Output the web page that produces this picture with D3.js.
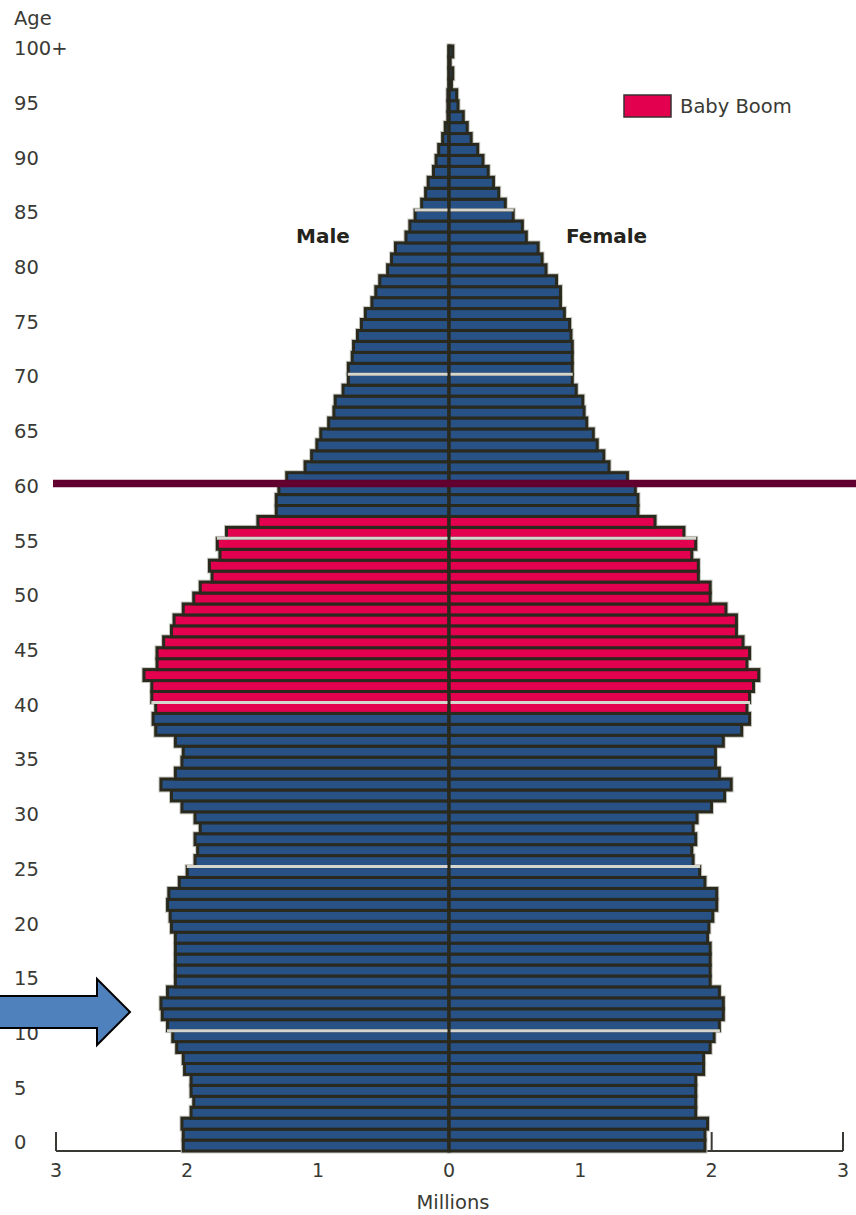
<!DOCTYPE html>
<html>
<head>
<meta charset="utf-8">
<script src="https://cdn.jsdelivr.net/npm/d3@7/dist/d3.min.js"></script>
<style>
  html, body { margin: 0; padding: 0; background: #ffffff; }
  svg { display: block; }
  text { font-family: "DejaVu Sans", Verdana, sans-serif; }
</style>
</head>
<body>
<svg id="chart" width="856" height="1215"></svg>
<script>
// ---- Data (millions), ages 0 .. 100+ ----
const ages = d3.range(0, 101);
const male = [
  2.04, 2.04, 2.05, 1.98, 1.96, 1.98, 1.98, 2.03, 2.04, 2.09,
  2.12, 2.16, 2.20, 2.21, 2.16, 2.10, 2.10, 2.10, 2.10, 2.10,
  2.13, 2.14, 2.16, 2.15, 2.07, 2.01, 1.95, 1.93, 1.95, 1.91,
  1.95, 2.05, 2.13, 2.21, 2.10, 2.05, 2.04, 2.10, 2.25, 2.27,
  2.25, 2.28, 2.28, 2.34, 2.24, 2.24, 2.19, 2.13, 2.11, 2.04,
  1.96, 1.91, 1.82, 1.84, 1.76, 1.78, 1.71, 1.47, 1.33, 1.33,
  1.31, 1.25, 1.11, 1.06, 1.02, 0.99, 0.93, 0.89, 0.88, 0.82,
  0.78, 0.78, 0.75, 0.74, 0.71, 0.68, 0.65, 0.60, 0.57, 0.54,
  0.48, 0.45, 0.42, 0.34, 0.31, 0.27, 0.22, 0.19, 0.17, 0.13,
  0.11, 0.09, 0.06, 0.04, 0.02, 0.02, 0.02, 0.01, 0.01, 0.01,
  0.01
];
const female = [
  1.96, 1.96, 1.98, 1.89, 1.89, 1.89, 1.89, 1.95, 1.95, 2.00,
  2.03, 2.07, 2.10, 2.10, 2.07, 2.00, 2.00, 2.00, 2.00, 1.98,
  1.99, 2.02, 2.05, 2.05, 1.96, 1.92, 1.87, 1.86, 1.89, 1.87,
  1.90, 2.01, 2.11, 2.16, 2.07, 2.04, 2.04, 2.10, 2.24, 2.30,
  2.28, 2.30, 2.33, 2.37, 2.28, 2.30, 2.25, 2.20, 2.20, 2.12,
  2.00, 2.00, 1.91, 1.91, 1.86, 1.89, 1.80, 1.58, 1.45, 1.45,
  1.43, 1.37, 1.23, 1.19, 1.14, 1.11, 1.06, 1.04, 1.03, 0.98,
  0.95, 0.95, 0.95, 0.95, 0.94, 0.93, 0.89, 0.86, 0.86, 0.83,
  0.75, 0.72, 0.69, 0.60, 0.57, 0.50, 0.44, 0.39, 0.35, 0.31,
  0.27, 0.23, 0.18, 0.15, 0.12, 0.08, 0.07, 0.03, 0.04, 0.02,
  0.04
];
const boomFirstAge = 40;
const boomLastAge = 57;
const ageTickValues = d3.range(0, 101, 5);
const ageTickLabels = ageTickValues.map(a => a === 100 ? "100+" : String(a));
const xTickValues = [0, 1, 2, 3];
const gapAges = [10, 25, 40, 55, 70, 85];
const markerAge = 60;
const legendLabel = "Baby Boom";

// ---- Layout ----
const svg = d3.select("#chart");
const cx = 449;
const COLORS = {
  blue: "#285186",
  pink: "#e2004f",
  outline: "#2a291d",
  halo: "#c9c9c2",
  text: "#3a3a34",
  marker: "#620030",
  arrow: "#4f81bd"
};

const xL = d3.scaleLinear().domain([0, 3]).range([cx, 56]);
const xR = d3.scaleLinear().domain([0, 3]).range([cx, 843]);
const y = d3.scaleBand().domain(ages).range([1151, 46]).paddingInner(0).paddingOuter(0);
const bw = y.bandwidth();
const sw = 3;

const rows = ages.map((a, i) => ({ age: a, m: male[i], f: female[i],
  boom: a >= boomFirstAge && a <= boomLastAge }));

// ---- Axis (drawn under bars) ----
const axisG = svg.append("g");
axisG.append("line")
  .attr("x1", xL(3)).attr("x2", xR(3))
  .attr("y1", 1151).attr("y2", 1151)
  .attr("stroke", COLORS.text).attr("stroke-width", 2);
const tickData = [];
xTickValues.forEach(v => { tickData.push({ v, x: xL(v) }); if (v > 0) tickData.push({ v, x: xR(v) }); });
axisG.selectAll("line.tick").data(tickData).join("line")
  .attr("class", "tick")
  .attr("x1", d => d.x).attr("x2", d => d.x)
  .attr("y1", 1151).attr("y2", 1132)
  .attr("stroke", COLORS.text).attr("stroke-width", 2);
axisG.selectAll("text.xt").data(tickData).join("text")
  .attr("class", "xt")
  .attr("x", d => d.x).attr("y", 1177)
  .attr("text-anchor", "middle")
  .attr("font-size", 19)
  .attr("fill", COLORS.text)
  .text(d => d.v);
axisG.append("text")
  .attr("x", 453).attr("y", 1209)
  .attr("text-anchor", "middle")
  .attr("font-size", 19.5)
  .attr("fill", COLORS.text)
  .text("Millions");

// ---- Bars ----
function drawBars(cls, stroke, width, withFill) {
  const g = svg.append("g");
  g.selectAll("rect.m").data(rows).join("rect")
    .attr("x", d => xL(d.m) + sw / 2)
    .attr("y", d => y(d.age))
    .attr("width", d => Math.max(0.3, cx - xL(d.m) - sw / 2))
    .attr("height", bw)
    .attr("fill", d => withFill ? (d.boom ? COLORS.pink : COLORS.blue) : "none")
    .attr("stroke", stroke).attr("stroke-width", width);
  g.selectAll("rect.f").data(rows).join("rect")
    .attr("x", cx)
    .attr("y", d => y(d.age))
    .attr("width", d => Math.max(0.3, xR(d.f) - cx - sw / 2))
    .attr("height", bw)
    .attr("fill", d => withFill ? (d.boom ? COLORS.pink : COLORS.blue) : "none")
    .attr("stroke", stroke).attr("stroke-width", width);
}
drawBars("halo", COLORS.halo, 5, false);
drawBars("main", COLORS.outline, sw, true);

// light gaps between some bars
svg.append("g").selectAll("line").data(gapAges).join("line")
  .attr("x1", a => Math.min(xL(male[a]), xL(male[a + 1])) + 1)
  .attr("x2", a => Math.max(xR(female[a]), xR(female[a + 1])) - 1)
  .attr("y1", a => y(a)).attr("y2", a => y(a))
  .attr("stroke", "#d6d6cf").attr("stroke-width", 3);

// center line
svg.append("line")
  .attr("x1", cx).attr("x2", cx)
  .attr("y1", y(100) - 1).attr("y2", 1151)
  .attr("stroke", COLORS.outline).attr("stroke-width", 3);

// marker line at 60
svg.append("line")
  .attr("x1", 53).attr("x2", 856)
  .attr("y1", y(markerAge)).attr("y2", y(markerAge))
  .attr("stroke", COLORS.marker).attr("stroke-width", 7.5);

// ---- Age labels ----
svg.append("text")
  .attr("x", 14).attr("y", 25)
  .attr("font-size", 19.5).attr("fill", COLORS.text)
  .text("Age");
svg.append("g").selectAll("text").data(ageTickValues).join("text")
  .attr("x", 14)
  .attr("y", (a) => y(a) + bw / 2 + 3.8)
  .attr("font-size", 19.5).attr("fill", COLORS.text)
  .text((a, i) => ageTickLabels[i]);

// ---- Male / Female ----
svg.append("text").attr("x", 323).attr("y", 243)
  .attr("text-anchor", "middle").attr("font-size", 20).attr("font-weight", "bold")
  .attr("fill", "#24231c").text("Male");
svg.append("text").attr("x", 566).attr("y", 243)
  .attr("font-size", 20).attr("font-weight", "bold")
  .attr("fill", "#24231c").text("Female");

// ---- Legend ----
svg.append("rect").attr("x", 624).attr("y", 95).attr("width", 47).attr("height", 22)
  .attr("fill", COLORS.pink).attr("stroke", "#3a3030").attr("stroke-width", 1.5);
svg.append("text").attr("x", 680).attr("y", 113)
  .attr("font-size", 19.5).attr("fill", COLORS.text).text(legendLabel);

// ---- Arrow annotation ----
svg.append("path")
  .attr("d", "M-5,996 L97,996 L97,979 L130,1012 L97,1045 L97,1028 L-5,1028 Z")
  .attr("fill", COLORS.arrow).attr("stroke", "#000").attr("stroke-width", 2)
  .attr("stroke-linejoin", "miter");
</script>
</body>
</html>
